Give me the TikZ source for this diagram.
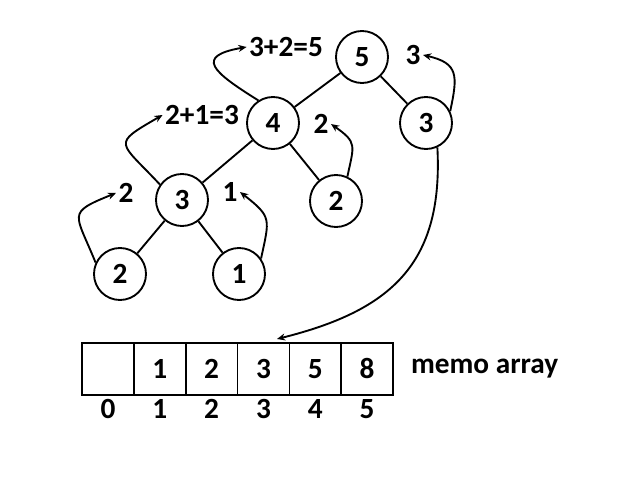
\documentclass[tikz,border=0pt]{standalone}
\usepackage{fontspec}
\setmainfont{Carlito}
\usetikzlibrary{positioning, arrows.meta}
\tikzset{
  tnode/.style = {circle, draw, line width=1.6pt, minimum size=1.56cm, inner sep=0pt},
  cell/.style = {rectangle, draw, line width=1.3pt, minimum width=1.555cm, minimum height=1.56cm, inner sep=0pt},
  lbl/.style = {inner sep=2pt},
  branch/.style = {line width=1.6pt},
  ret/.style = {line width=1.6pt, -{Stealth[length=7pt, width=6pt]}},
}

\begin{document}
\begin{tikzpicture}[x=0.03cm, y=0.03cm, font=\fontsize{25}{30}\bfseries\selectfont]
  \useasboundingbox (0,0) rectangle (640,480);
  % recursion tree
  \node[tnode] (n5) at (362,423) {5};
  \node[tnode] (n4) at (273,357) {4};
  \node[tnode] (n3R) at (426,357) {3};
  \node[tnode] (n3L) at (182,280) {3};
  \node[tnode] (n2M) at (336,279) {2};
  \node[tnode] (n2L) at (120,206) {2};
  \node[tnode] (n1) at (239,206) {1};
  \draw[branch] (n5) -- (n4);
  \draw[branch] (n5) -- (n3R);
  \draw[branch] (n4) -- (n3L);
  \draw[branch] (n4) -- (n2M);
  \draw[branch] (n3L) -- (n2L);
  \draw[branch] (n3L) -- (n1);

  % returned values
  \node[lbl] (s5) at (286,433) {3+2=5};
  \node[lbl] (t5) at (413,425) {3};
  \node[lbl] (s3) at (202,365) {2+1=3};
  \node[lbl] (t4) at (321,356) {2};
  \node[lbl] (t2) at (126,287) {2};
  \node[lbl] (t1) at (230,288) {1};
  \draw[ret] (n4.123) to[out=148, in=190, looseness=2.5] (s5.west);
  \draw[ret] (n3L.145) to[out=133, in=210, looseness=2.2] (s3.west);
  \draw[ret] (n2L.155) to[out=112, in=202, looseness=1.9] (t2.west);
  \draw[ret] (n1.35) to[out=78, in=-38, looseness=1.5] (t1.east);
  \draw[ret] (n2M.65) to[out=78, in=-35, looseness=1.5] (t4.east);
  \draw[ret] (n3R.26) to[out=78, in=-13, looseness=1.5] (t5.east);

  % memo array
  \foreach \i/\v in {0/{},1/1,2/2,3/3,4/5,5/8} {
    \node[cell] (c\i) at (108+51.83*\i,111) {\v};
    \node[lbl] (k\i) at (108+51.83*\i,71) {\i};
  }
  \node[lbl, right=12.5pt of c5] (memo) {memo array};
  \coordinate (m3) at (277,141);
  \draw[ret] (n3R.-65) to[out=-87, in=14, looseness=1.2] (m3);
\end{tikzpicture}
\end{document}
